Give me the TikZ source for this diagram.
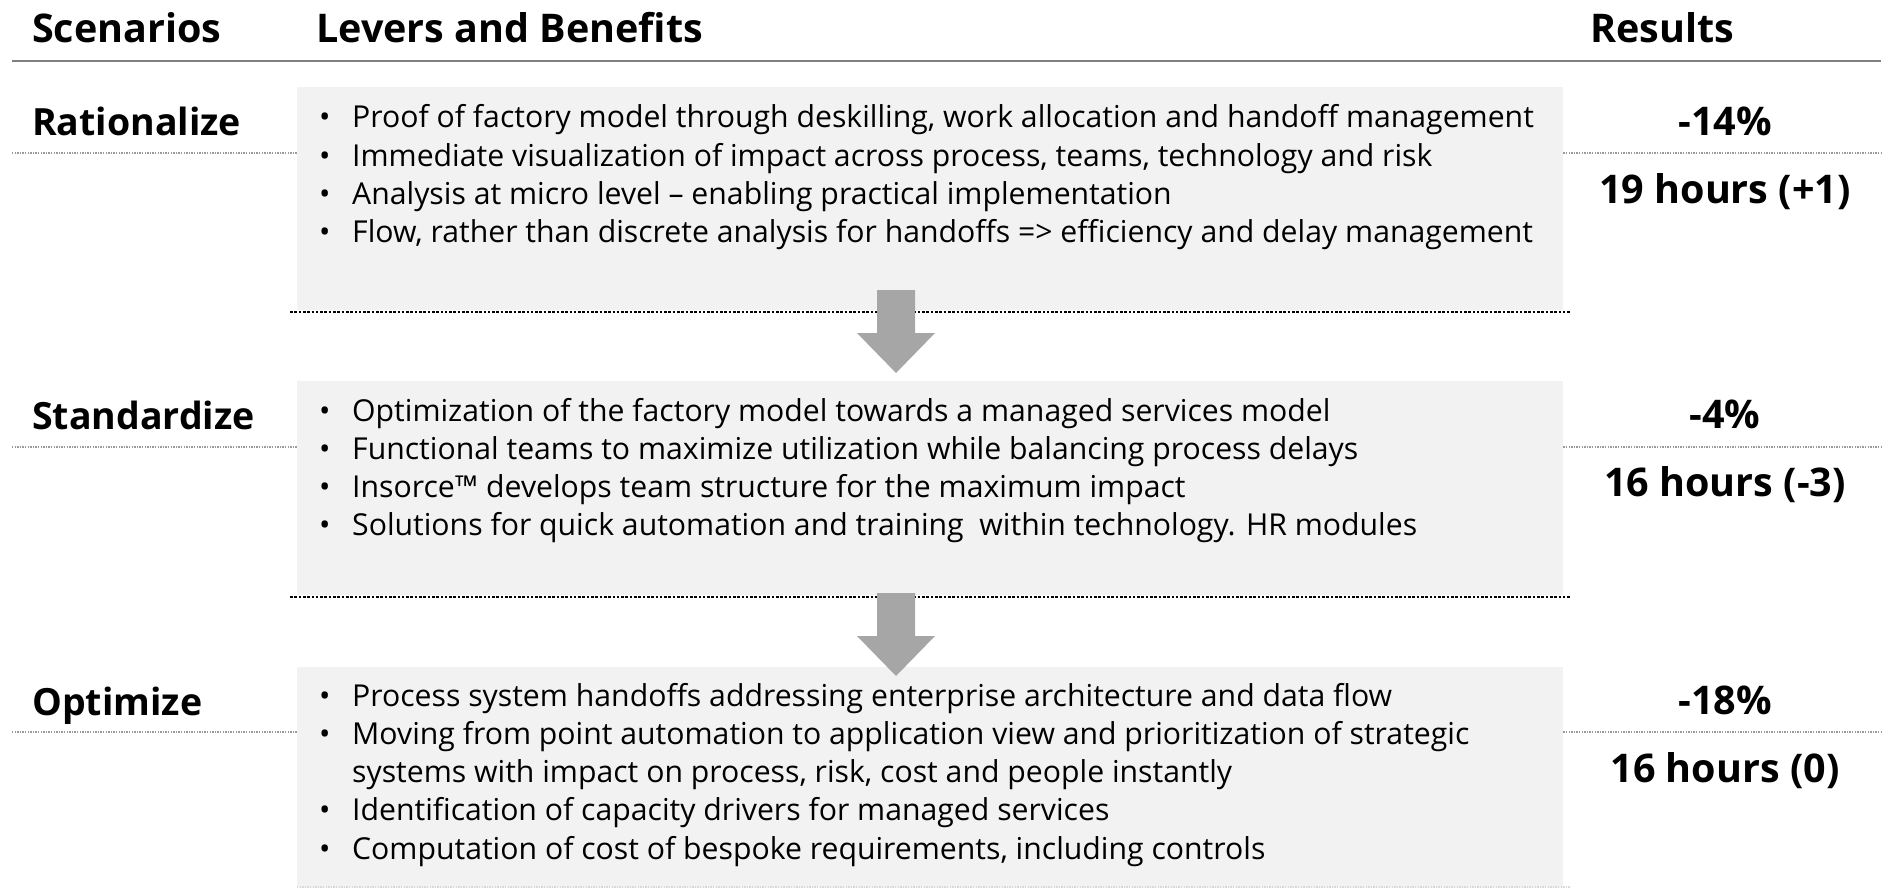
\documentclass[tikz,border=0pt]{standalone}
\usepackage{fontspec}
\setmainfont{Open Sans}
\definecolor{panelfill}{HTML}{F2F2F2}
\definecolor{rulegray}{HTML}{808080}
\definecolor{sepgray}{HTML}{9A9A9A}
\definecolor{arrowfill}{HTML}{A6A6A6}
\begin{document}
\begin{tikzpicture}[x=1pt,y=-1pt,
  head/.style={anchor=base west,inner sep=0pt,font=\fontsize{39.5}{44}\bfseries\selectfont},
  scen/.style={anchor=base west,inner sep=0pt,font=\fontsize{37.5}{44}\bfseries\selectfont},
  result/.style={anchor=base,inner sep=0pt,font=\fontsize{39.5}{44}\bfseries\selectfont},
  line/.style={anchor=base west,inner sep=0pt,font=\fontsize{30.2}{36}\selectfont},
  panel/.style={fill=panelfill,draw=none,anchor=north west,inner sep=0pt,minimum width=1266pt},
  rowsep/.style={draw=sepgray,line width=1.3pt,dash pattern=on 1.3pt off 1.3pt},
  panelrule/.style={draw=black,line width=2.5pt,dash pattern=on 2.6pt off 1.7pt},
  lastrule/.style={draw=black!15,line width=1.3pt,dash pattern=on 1.3pt off 1.3pt},
  blockarrow/.style={fill=arrowfill,draw=none}]
\useasboundingbox (0,0) rectangle (1885,888);

% column headings and top rule
\node[head] (hScen) at (32,43) {Scenarios};
\node[head] (hLev) at (316,43) {Levers and Benefits};
\node[head] (hRes) at (1590,43) {Results};
\coordinate (topL) at (12,61);
\coordinate (topR) at (1881,61);
\draw[draw=rulegray,line width=2.8pt] (topL) -- (topR);

% grey panels
\node[panel,minimum height=223pt] (p1) at (297,87) {};
\node[panel,minimum height=214pt] (p2) at (297,381) {};
\node[panel,minimum height=221pt] (p3) at (297,667) {};

% dotted rules under the panels
\coordinate (r1L) at (290,312); \coordinate (r1R) at (1571,312);
\coordinate (r2L) at (290,597); \coordinate (r2R) at (1571,597);
\coordinate (r3L) at (297,887); \coordinate (r3R) at (1571,887);
\draw[panelrule] (r1L) -- (r1R);
\draw[panelrule] (r2L) -- (r2R);
\draw[lastrule] (r3L) -- (r3R);

% block arrows between the panels
\foreach \nm/\ty in {a1/290,a2/593}{
  \coordinate (\nm) at (896,\ty);
  \fill[blockarrow] ([xshift=-19pt]\nm) -- ([xshift=19pt]\nm)
    -- ([xshift=19pt,yshift=-43pt]\nm) -- ([xshift=39pt,yshift=-43pt]\nm)
    -- ([yshift=-83pt]\nm) -- ([xshift=-39pt,yshift=-43pt]\nm)
    -- ([xshift=-19pt,yshift=-43pt]\nm) -- cycle;
}

% scenario names with their dotted separators
\node[scen] (sRat) at (32,136) {Rationalize};
\node[scen] (sStd) at (32,429) {Standardize};
\node[scen] (sOpt) at (32,715) {Optimize};
\foreach \yy/\pp in {153/p1,447/p2,732/p3}{
  \draw[rowsep] (12,\yy) -- (\pp.west |- 0,\yy);
  \draw[rowsep] (\pp.east |- 0,\yy) -- (1881,\yy);
}

% results
\node[result] (res1a) at (1725,136) {-14\%};
\node[result] (res1b) at (1725,203) {19 hours (+1)};
\node[result] (res2a) at (1725,428) {-4\%};
\node[result] (res2b) at (1725,496) {16 hours (-3)};
\node[result] (res3a) at (1725,714) {-18\%};
\node[result] (res3b) at (1725,782) {16 hours (0)};

% bullet lists
\newcommand{\bul}{\makebox[33pt][l]{•}}
\newcommand{\cont}{\hspace{33pt}}
\node[line] (l11) at (319,128)   {\bul Proof of factory model through deskilling, work allocation and handoff management};
\node[line] (l12) at (319,166.3) {\bul Immediate visualization of impact across process, teams, technology and risk};
\node[line] (l13) at (319,204.6) {\bul Analysis at micro level – enabling practical implementation};
\node[line] (l14) at (319,242.9) {\bul Flow, rather than discrete analysis for handoffs => efficiency and delay management};

\node[line] (l21) at (319,421)   {\bul Optimization of the factory model towards a managed services model};
\node[line] (l22) at (319,459.3) {\bul Functional teams to maximize utilization while balancing process delays};
\node[line] (l23) at (319,497.6) {\bul Insorce™ develops team structure for the maximum impact};
\node[line] (l24) at (319,535.9) {\bul Solutions for quick automation and training\ \ within technology. HR modules};

\node[line] (l31) at (319,706)   {\bul Process system handoffs addressing enterprise architecture and data flow};
\node[line] (l32) at (319,744.3) {\bul Moving from point automation to application view and prioritization of strategic};
\node[line] (l33) at (319,782.6) {\cont systems with impact on process, risk, cost and people instantly};
\node[line] (l34) at (319,820.9) {\bul Identification of capacity drivers for managed services};
\node[line] (l35) at (319,859.2) {\bul Computation of cost of bespoke requirements, including controls};
\end{tikzpicture}
\end{document}
